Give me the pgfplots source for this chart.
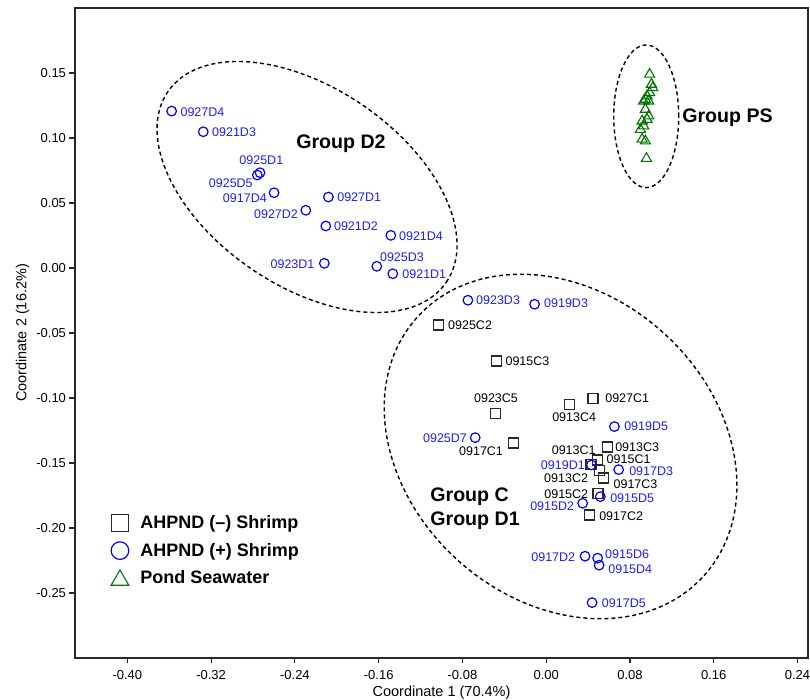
\documentclass[border=0pt]{standalone}
\usepackage{fontspec}
\setmainfont{Liberation Sans}
\usepackage{pgfplots}
\usepackage{pgfplotstable}
\pgfplotsset{compat=1.18}
\definecolor{psgreen}{RGB}{0,115,0}
\definecolor{sqgray}{RGB}{40,40,40}
\definecolor{lblblue}{RGB}{30,30,255}

% anc: 180 = label to the right, 0 = label to the left, 270 = label above, 90 = label below
\pgfplotstableread{
x y lbl anc dx dy
-0.1025 -0.0438 0925C2 180 8.7 0
-0.0477 -0.0715 0915C3 180 8.7 0
-0.0484 -0.1120 0923C5 270 0.5 10.7
0.0221 -0.1048 0913C4 90 4.8 -8.4
0.0447 -0.1002 0927C1 180 11.7 -0.3
-0.0312 -0.1346 0917C1 0 -10 -8.3
0.0587 -0.1377 0913C3 180 7 0
0.0486 -0.1477 0915C1 180 9 0.6
0.0428 -0.1510 0913C1 270 -17.3 8.7
0.0510 -0.1556 0913C2 0 -11 -8.3
0.0549 -0.1615 0917C3 180 9.3 -6.3
0.0495 -0.1733 0915C2 0 -9.3 -1.3
0.0412 -0.1900 0917C2 180 9.3 -1
}\squares

\pgfplotstableread{
x y lbl anc dx dy
-0.3577 0.1207 0927D4 180 8.3 -0.7
-0.3275 0.1048 0921D3 180 8.3 -0.7
-0.2733 0.0733 0925D1 270 1.3 7.4
-0.2759 0.0715 0925D5 0 -4 -8.3
-0.2599 0.0579 0917D4 0 -6.7 -5
-0.2296 0.0444 0927D2 0 -7.3 -4
-0.2080 0.0546 0927D1 180 8.3 0
-0.2105 0.0323 0921D2 180 7.7 0
-0.1484 0.0251 0921D4 180 7.7 -1
-0.2119 0.0036 0923D1 0 -9.3 -1
-0.1618 0.0013 0925D3 180 2.7 9
-0.1465 -0.0044 0921D1 180 9 0
-0.0748 -0.0248 0923D3 180 7.7 0
-0.0111 -0.0279 0919D3 180 9 1
0.0651 -0.1220 0919D5 180 9.3 0
-0.0678 -0.1305 0925D7 0 -7.7 -1
0.0431 -0.1515 0919D1 0 -6 0
0.0692 -0.1551 0917D3 180 10 -1.6
0.0517 -0.1759 0915D5 180 9.3 -1.7
0.0348 -0.1810 0915D2 0 -8 -2.7
0.0371 -0.2217 0917D2 0 -9.3 -0.7
0.0491 -0.2232 0915D6 180 7 4
0.0505 -0.2286 0915D4 180 8.7 -3.7
0.0438 -0.2574 0917D5 180 9.3 -0.7
}\circles

\pgfplotstableread{
x y
0.0988 0.1490
0.1005 0.1413
0.1017 0.1387
0.0988 0.1348
0.0963 0.1323
0.0947 0.1297
0.0979 0.1284
0.0931 0.1284
0.0947 0.1220
0.0979 0.1169
0.0963 0.1143
0.0916 0.1130
0.0931 0.1092
0.0900 0.1066
0.0916 0.0990
0.0947 0.0977
0.0957 0.0843
}\triangles

\pgfplotsset{
  ptlabels/.style={
    nodes near coords,
    point meta=explicit symbolic,
    visualization depends on={\thisrow{anc} \as \anc},
    visualization depends on={\thisrow{dx} \as \dx},
    visualization depends on={\thisrow{dy} \as \dy},
    every node near coord/.append style={anchor=\anc, xshift=\dx pt, yshift=\dy pt,
      inner sep=0pt, font=\fontsize{12.5}{14}\selectfont, text=#1},
  },
}

\begin{document}
\begin{tikzpicture}
\begin{axis}[
  scale only axis,
  width=733pt, height=650pt,
  xmin=-0.45, xmax=0.25,
  ymin=-0.30, ymax=0.20,
  clip=false,
  axis line style={line width=1.2pt, sqgray},
  tick pos=left,
  tick align=outside,
  major tick length=5.5pt,
  tick style={line width=1.1pt, sqgray},
  xtick={-0.40,-0.32,-0.24,-0.16,-0.08,0,0.08,0.16,0.24},
  ytick={-0.25,-0.20,-0.15,-0.10,-0.05,0,0.05,0.10,0.15},
  /pgf/number format/fixed,
  /pgf/number format/fixed zerofill,
  /pgf/number format/precision=2,
  /pgf/number format/assume math mode=true,
  ticklabel style={font=\fontsize{13}{15}\selectfont, text=black},
  xticklabel style={yshift=-3.5pt},
  xlabel={Coordinate 1 (70.4\%)},
  ylabel={Coordinate 2 (16.2\%)},
  label style={font=\fontsize{14.5}{16}\selectfont},
  xlabel style={yshift=1pt},
  ylabel style={yshift=0pt},
  legend style={at={(axis description cs:0.049,0.226)}, anchor=north west,
    draw=none, fill=none, inner xsep=0pt, inner ysep=0pt,
    font=\bfseries\fontsize{18}{20}\selectfont,
    nodes={inner sep=4.5pt}, row sep=4pt, column sep=7pt},
  legend cell align=left,
  legend image code/.code={\draw[#1] plot coordinates {(9pt,0pt)};},
]
% Squares
\addplot[only marks, mark=square, mark size=5pt, sqgray, line width=1.2pt, ptlabels=black,
  legend image post style={mark size=8.6pt}]
  table[x=x, y=y, meta=lbl] {\squares};
\addlegendentry{AHPND (\textendash) Shrimp}
% Circles
\addplot[only marks, mark=o, mark size=4.8pt, blue, line width=1.2pt, ptlabels=lblblue,
  legend image post style={mark size=8.8pt}]
  table[x=x, y=y, meta=lbl] {\circles};
\addlegendentry{AHPND (+) Shrimp}
% Triangles
\addplot[only marks, mark=triangle, mark size=5.8pt, psgreen, line width=1.1pt,
  legend image post style={mark size=10.2pt, yshift=-2pt}]
  table[x=x, y=y] {\triangles};
\addlegendentry{Pond Seawater}

% group ellipses
\draw[black, line width=1.4pt, dash pattern=on 4pt off 3pt,
  rotate around={-34.4:(axis cs:-0.2284,0.0623)}]
  (axis cs:-0.2284,0.0623) ellipse [x radius=168.7pt, y radius=99pt];
\draw[black, line width=1.4pt, dash pattern=on 4pt off 3pt,
  rotate around={-42:(axis cs:0.0137,-0.1373)}]
  (axis cs:0.0137,-0.1373) ellipse [x radius=193pt, y radius=153.3pt];
\draw[black, line width=1.4pt, dash pattern=on 4pt off 3pt]
  (axis cs:0.0955,0.1167) ellipse [x radius=32.5pt, y radius=71.3pt];

% group labels
\node[anchor=base, font=\bfseries\fontsize{19.6}{22}\selectfont, inner sep=0pt] at (axis cs:-0.196,0.0921) {Group D2};
\node[anchor=base west, font=\bfseries\fontsize{19.6}{22}\selectfont, inner sep=0pt] at (axis cs:0.1298,0.1120) {Group PS};
\node[anchor=base west, font=\bfseries\fontsize{19.6}{22}\selectfont, inner sep=0pt] at (axis cs:-0.1108,-0.1797) {Group C};
\node[anchor=base west, font=\bfseries\fontsize{19.6}{22}\selectfont, inner sep=0pt] at (axis cs:-0.1108,-0.1982) {Group D1};

\coordinate (O) at (rel axis cs:0,0);
\end{axis}
\pgfresetboundingbox
\path (O) ++(-75pt,-42pt) rectangle ++(810pt,700pt);
\end{tikzpicture}
\end{document}
